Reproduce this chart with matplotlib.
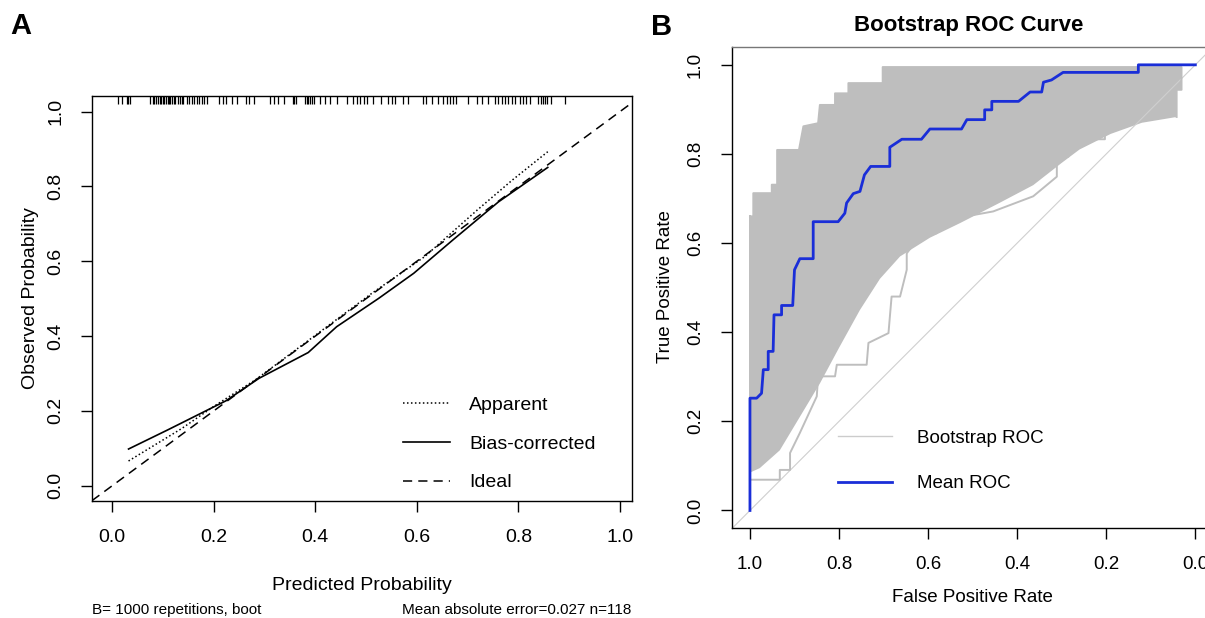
import numpy as np
import matplotlib
matplotlib.use("Agg")
import matplotlib.pyplot as plt

plt.rcParams['font.family'] = ['Liberation Sans', 'DejaVu Sans']

# ---------------- Panel A data (calibration) ----------------
rug_x = [0.012, 0.020, 0.028, 0.031, 0.035,
         0.075, 0.080, 0.083, 0.087, 0.090, 0.093, 0.096, 0.100, 0.102, 0.106,
         0.109, 0.112, 0.114, 0.117, 0.121, 0.124, 0.129, 0.133, 0.137, 0.140,
         0.147, 0.152, 0.157, 0.161, 0.167, 0.171, 0.177, 0.181, 0.186,
         0.211, 0.218, 0.224, 0.236, 0.245, 0.264, 0.270, 0.280,
         0.311, 0.319, 0.327, 0.339, 0.356, 0.358, 0.362,
         0.380, 0.383, 0.386, 0.390, 0.393, 0.398, 0.409, 0.419, 0.429, 0.442,
         0.462, 0.475, 0.482, 0.488, 0.496, 0.501, 0.514,
         0.529, 0.544, 0.551, 0.557, 0.573, 0.583,
         0.613, 0.619, 0.629, 0.642, 0.652, 0.659, 0.665, 0.672, 0.678,
         0.701, 0.718, 0.728, 0.741, 0.754, 0.760, 0.767, 0.774, 0.780, 0.787,
         0.793, 0.803, 0.810, 0.816, 0.823, 0.839, 0.844, 0.848, 0.852, 0.857,
         0.865, 0.892]

apparent_x = [0.032, 0.137, 0.200, 0.282, 0.400, 0.511, 0.615, 0.719, 0.788, 0.858]
apparent_y = [0.066, 0.153, 0.212, 0.283, 0.402, 0.514, 0.612, 0.737, 0.817, 0.893]

bias_x = [0.032, 0.109, 0.224, 0.289, 0.386, 0.442, 0.525, 0.594, 0.671, 0.761, 0.858]
bias_y = [0.098, 0.149, 0.227, 0.287, 0.356, 0.425, 0.501, 0.568, 0.657, 0.759, 0.851]

legend_a = ["Apparent", "Bias-corrected", "Ideal"]
ticks_a = [0.0, 0.2, 0.4, 0.6, 0.8, 1.0]
sub_left = "B= 1000 repetitions, boot"
sub_right = "Mean absolute error=0.027 n=118"

# ---------------- Panel B data (bootstrap ROC) ----------------
mean_spec = [1, 1, 0.985, 0.974, 0.970, 0.959, 0.959, 0.948, 0.946, 0.929, 0.929,
             0.904, 0.900, 0.888, 0.858, 0.858, 0.802, 0.787, 0.783, 0.768, 0.753,
             0.743, 0.729, 0.686, 0.686, 0.659, 0.615, 0.596, 0.525, 0.513, 0.473,
             0.473, 0.457, 0.457, 0.397, 0.371, 0.345, 0.341, 0.323, 0.297, 0.128,
             0.128, 0.0]
mean_tpr = [0, 0.252, 0.252, 0.263, 0.316, 0.316, 0.357, 0.357, 0.439, 0.439, 0.460,
            0.460, 0.540, 0.565, 0.565, 0.648, 0.648, 0.667, 0.690, 0.711, 0.716,
            0.753, 0.772, 0.772, 0.815, 0.833, 0.833, 0.856, 0.856, 0.877, 0.877,
            0.899, 0.899, 0.918, 0.918, 0.939, 0.939, 0.961, 0.966, 0.983, 0.983,
            1.0, 1.0]

band_upper_spec = [1.0, 0.9925, 0.9925, 0.951, 0.951, 0.939, 0.939, 0.890, 0.880,
                   0.847, 0.843, 0.809, 0.809, 0.779, 0.779, 0.702, 0.702, 0.031,
                   0.031, 0.042, 0.042]
band_upper_tpr = [0.66, 0.66, 0.712, 0.712, 0.731, 0.731, 0.809, 0.809, 0.862,
                  0.869, 0.910, 0.910, 0.936, 0.936, 0.959, 0.959, 0.995, 0.995,
                  0.944, 0.944, 0.883]

band_lower_spec = [1.0, 0.978, 0.933, 0.888, 0.843, 0.800, 0.753, 0.708, 0.663,
                   0.596, 0.528, 0.440, 0.364, 0.300, 0.260, 0.190, 0.120, 0.042]
band_lower_tpr = [0.085, 0.095, 0.135, 0.210, 0.285, 0.365, 0.450, 0.520, 0.570,
                  0.612, 0.645, 0.690, 0.730, 0.780, 0.810, 0.845, 0.870, 0.883]

outlier_spec = [1.0, 0.933, 0.933, 0.910, 0.910, 0.888, 0.850, 0.847, 0.809, 0.805,
                0.738, 0.734, 0.689, 0.682, 0.663, 0.648, 0.648, 0.614, 0.581,
                0.581, 0.454, 0.364, 0.311, 0.311, 0.285, 0.285, 0.203, 0.203]
outlier_tpr = [0.069, 0.069, 0.091, 0.091, 0.129, 0.174, 0.256, 0.301, 0.301, 0.327,
               0.327, 0.376, 0.398, 0.480, 0.480, 0.540, 0.577, 0.622, 0.622,
               0.648, 0.671, 0.705, 0.749, 0.794, 0.794, 0.833, 0.833, 0.883]

legend_b = ["Bootstrap ROC", "Mean ROC"]
ticks_b = [1.0, 0.8, 0.6, 0.4, 0.2, 0.0]
tick_labels_b = ["1.0", "0.8", "0.6", "0.4", "0.2", "0.0"]

# ---------------- Figure ----------------
W, H = 1205, 618
fig = plt.figure(figsize=(W / 100, H / 100), dpi=100)


def px_axes(l, r, t, b):
    return fig.add_axes([l / W, 1 - b / H, (r - l) / W, (b - t) / H])


# ---------- Panel A ----------
axA = px_axes(92, 632, 96, 501)
axA.set_xlim(-0.04, 1.024)
axA.set_ylim(-0.041, 1.042)
lA1, = axA.plot(apparent_x, apparent_y, color='black', lw=1.1, ls=(0, (1, 1.6)))
lA2, = axA.plot(bias_x, bias_y, color='black', lw=1.2, ls='-')
lA3 = axA.axline((0, 0), (1, 1), color='black', lw=1.1, ls=(0, (6, 4)))
axA.vlines(rug_x, 0.980, 1.0, transform=axA.get_xaxis_transform(),
           color='black', lw=0.9)
axA.set_xticks(ticks_a)
axA.set_yticks(ticks_a)
axA.set_xticklabels([f"{t:.1f}" for t in ticks_a])
axA.set_yticklabels([f"{t:.1f}" for t in ticks_a], rotation=90, va='center')
axA.tick_params(axis='both', direction='out', length=8, width=1.0,
                labelsize=14, pad=12)
for s in axA.spines.values():
    s.set_linewidth(1.0)
axA.legend([lA1, lA2, lA3], legend_a, loc='center left',
           bbox_to_anchor=(403 / W, 1 - 444 / H), bbox_transform=fig.transFigure,
           frameon=False, fontsize=14, handlelength=2.4, handletextpad=1.0,
           labelspacing=1.08, borderpad=0, borderaxespad=0)

fig.text(362 / W, 1 - 585 / H, "Predicted Probability", ha='center', va='center',
         fontsize=14)
fig.text(31 / W, 1 - 298 / H, "Observed Probability", ha='center', va='center',
         rotation=90, fontsize=14)
fig.text(92 / W, 1 - 610 / H, sub_left, ha='left', va='center', fontsize=11)
fig.text(631 / W, 1 - 610 / H, sub_right, ha='right', va='center', fontsize=11)
fig.text(10 / W, 1 - 26 / H, "A", ha='left', va='center', fontsize=21,
         fontweight='bold')

# ---------- Panel B ----------
axB = px_axes(731.7, 1213.6, 47, 528.3)
axB.set_xlim(1.041, -0.041)
axB.set_ylim(-0.04, 1.04)
grey = '#bebebe'
axB.axline((1, 0), (0, 1), color='#cfcfcf', lw=0.8)
poly_x = list(band_upper_spec) + list(band_lower_spec[::-1])
poly_y = list(band_upper_tpr) + list(band_lower_tpr[::-1])
axB.fill(poly_x, poly_y, color=grey, lw=0)
axB.plot(band_upper_spec, band_upper_tpr, color=grey, lw=1.4)
axB.plot(outlier_spec, outlier_tpr, color=grey, lw=1.4)
axB.plot([1.0, 1.0], [0.069, 0.66], color=grey, lw=1.4)
lB2, = axB.plot(mean_spec, mean_tpr, color='#1a2ed8', lw=2.0)
lB1, = axB.plot([], [], color='#cccccc', lw=1.0)
axB.set_xticks(ticks_b)
axB.set_xticklabels(tick_labels_b)
axB.set_yticks(ticks_b)
axB.set_yticklabels(tick_labels_b, rotation=90, va='center')
axB.tick_params(axis='both', direction='out', length=8, width=1.0,
                labelsize=13.5, pad=12)
for s in axB.spines.values():
    s.set_linewidth(1.0)
axB.spines['top'].set_color('#777777')
axB.legend([lB1, lB2], legend_b, loc='center left',
           bbox_to_anchor=(838 / W, 1 - 461 / H), bbox_transform=fig.transFigure,
           frameon=False, fontsize=13.5, handlelength=2.9, handletextpad=1.3,
           labelspacing=1.5, borderpad=0, borderaxespad=0)

fig.text(969 / W, 1 - 25 / H, "Bootstrap ROC Curve", ha='center', va='center',
         fontsize=16, fontweight='bold')
fig.text(972 / W, 1 - 597 / H, "False Positive Rate", ha='center', va='center',
         fontsize=13.5)
fig.text(665 / W, 1 - 287 / H, "True Positive Rate", ha='center', va='center',
         rotation=90, fontsize=13.5)
fig.text(651 / W, 1 - 27 / H, "B", ha='left', va='center', fontsize=21,
         fontweight='bold')

fig.savefig("out.png", dpi=100)
